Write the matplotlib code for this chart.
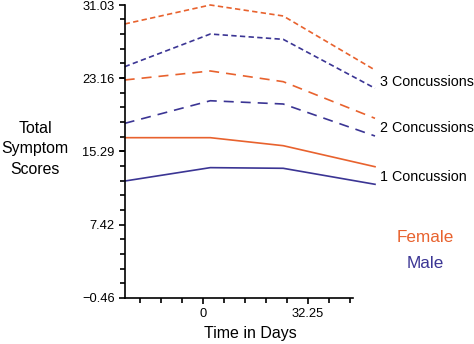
"""
Total symptom scores over time by sex and number of concussions
"""

import numpy as np
import matplotlib
matplotlib.use('Agg')
import matplotlib.pyplot as plt
from matplotlib.ticker import FixedLocator

plt.rcParams['font.family'] = ['Liberation Sans', 'DejaVu Sans']

# data
days = [-24.0, 2.3, 24.7, 52.9]
female_3 = [28.99, 31.03, 29.85, 24.04]
male_3 = [24.40, 27.91, 27.34, 22.08]
female_2 = [22.97, 23.94, 22.79, 18.85]
male_2 = [18.31, 20.74, 20.39, 16.95]
female_1 = [16.77, 16.77, 15.91, 13.65]
male_1 = [12.11, 13.55, 13.48, 11.76]

y_ticks = [-0.46, 7.42, 15.29, 23.16, 31.03]
y_ticklabels = ['\u22120.46', '7.42', '15.29', '23.16', '31.03']
x_ticks = [0, 32.25]
x_ticklabels = ['0', '32.25']
group_labels = ['3 Concussions', '2 Concussions', '1 Concussion']

orange = '#E8622E'
purple = '#3B3594'

fig = plt.figure(figsize=(4.74, 3.44), dpi=100)
ax = fig.add_axes([125 / 474, 1 - 298 / 344, (375 - 125) / 474, 293 / 344])

lw = 1.2
short_dash = (0, (3.2, 2.0))
long_dash = (0, (6.0, 4.2))
ax.plot(days, female_3, color=orange, lw=lw, linestyle=short_dash, clip_on=False)
ax.plot(days, male_3, color=purple, lw=lw, linestyle=short_dash, clip_on=False)
ax.plot(days, female_2, color=orange, lw=lw, linestyle=long_dash, clip_on=False)
ax.plot(days, male_2, color=purple, lw=lw, linestyle=long_dash, clip_on=False)
ax.plot(days, female_1, color=orange, lw=lw, clip_on=False)
ax.plot(days, male_1, color=purple, lw=lw, clip_on=False)

x_lo, x_hi = -23.9, 46.2
ax.set_xlim(x_lo, days[-1])
ax.set_ylim(y_ticks[0], y_ticks[-1])

for side in ['top', 'right']:
    ax.spines[side].set_visible(False)
ax.spines['bottom'].set_bounds(x_lo, x_hi)
for side in ['left', 'bottom']:
    ax.spines[side].set_linewidth(1.2)

ax.set_yticks(y_ticks)
ax.set_yticklabels(y_ticklabels)
ax.set_xticks(x_ticks)
ax.set_xticklabels(x_ticklabels)
step_y = (y_ticks[1] - y_ticks[0]) / 5
ax.yaxis.set_minor_locator(FixedLocator(np.arange(y_ticks[0], y_ticks[-1] + 0.01, step_y)))
ax.xaxis.set_minor_locator(FixedLocator(np.arange(-3, 8) * 32.25 / 5))
ax.tick_params(which='major', direction='out', length=4.5, width=1.2, labelsize=9.3, pad=3)
ax.tick_params(which='minor', direction='out', length=3.5, width=1.2)

ax.set_xlabel('Time in Days', fontsize=11.5, labelpad=4)
fig.text(35 / 474, 1 - 149 / 344, 'Total\nSymptom\nScores', fontsize=11.4,
         ha='center', va='center', linespacing=1.45)

label_y = [82, 128, 177]
for txt, py in zip(group_labels, label_y):
    fig.text(380 / 474, 1 - py / 344, txt, fontsize=10.3, ha='left', va='center')

fig.text(425 / 474, 1 - 237 / 344, 'Female', color=orange, fontsize=12.3,
         ha='center', va='center')
fig.text(425 / 474, 1 - 263 / 344, 'Male', color=purple, fontsize=12.3,
         ha='center', va='center')

plt.savefig('out.png', dpi=100)
plt.close()
